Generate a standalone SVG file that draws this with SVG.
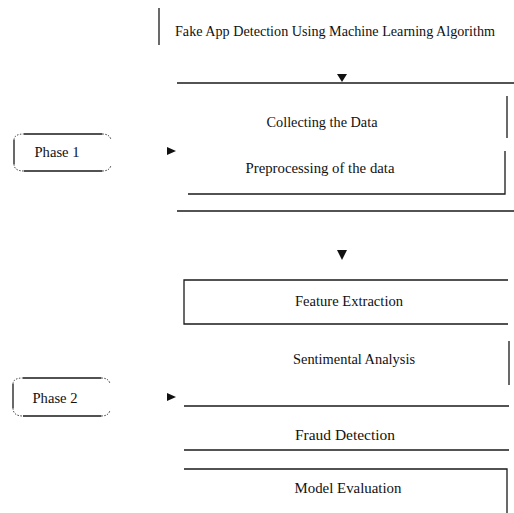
<svg xmlns="http://www.w3.org/2000/svg" width="514" height="513" viewBox="0 0 514 513">
<style>
.ln{stroke:#1a1a1a;stroke-width:1.3;fill:none}
.cn{stroke:#333;stroke-width:1;fill:none;stroke-dasharray:1.5 1.5}
.t{font-family:"Liberation Serif","Times New Roman",serif;font-size:14px;fill:#111;text-anchor:middle}
.ar{fill:#111}
</style>
<rect width="514" height="513" fill="#fff"/>
<g id="title">
<line class="ln" x1="159" y1="8" x2="159" y2="45"/>
<text class="t" x="335" y="36" textLength="320" lengthAdjust="spacingAndGlyphs">Fake App Detection Using Machine Learning Algorithm</text>
</g>
<g id="phase1">
<path class="ln" d="M24 134 H102 M14 140 V164 M24 171 H102"/>
<path class="cn" d="M14 140 Q14 134 24 134 M102 134 Q110 134 111 140 M14 164 Q14 171 24 171 M102 171 Q110 171 111 165"/>
<text class="t" x="57" y="157" textLength="45" lengthAdjust="spacingAndGlyphs">Phase 1</text>
</g>
<g id="phase2">
<path class="ln" d="M23 378 H101 M13 384 V408 M23 416 H101"/>
<path class="cn" d="M13 384 Q13 378 23 378 M101 378 Q109 378 110 384 M13 408 Q13 416 23 416 M101 416 Q109 416 110 410"/>
<text class="t" x="55" y="403" textLength="45" lengthAdjust="spacingAndGlyphs">Phase 2</text>
</g>
<g id="collecting">
<line class="ln" x1="507" y1="96" x2="507" y2="138"/>
<text class="t" x="322" y="127" textLength="111" lengthAdjust="spacingAndGlyphs">Collecting the Data</text>
</g>
<g id="preprocessing">
<path class="ln" d="M188 194 H505 V151"/>
<text class="t" x="320" y="173" textLength="149" lengthAdjust="spacingAndGlyphs">Preprocessing of the data</text>
</g>
<g id="phase1-frame">
<line class="ln" x1="177" y1="83" x2="514" y2="83"/>
<line class="ln" x1="177" y1="211" x2="514" y2="211"/>
</g>
<g id="feature">
<path class="ln" d="M508 280 H184 V324 H508"/>
<text class="t" x="349" y="306" textLength="108" lengthAdjust="spacingAndGlyphs">Feature Extraction</text>
</g>
<g id="sentimental">
<line class="ln" x1="509" y1="341" x2="509" y2="385"/>
<text class="t" x="354" y="364" textLength="122" lengthAdjust="spacingAndGlyphs">Sentimental Analysis</text>
</g>
<g id="fraud">
<line class="ln" x1="184" y1="406" x2="509" y2="406"/>
<line class="ln" x1="184" y1="450" x2="509" y2="450"/>
<text class="t" x="345" y="440" textLength="100" lengthAdjust="spacingAndGlyphs">Fraud Detection</text>
</g>
<g id="evaluation">
<path class="ln" d="M184 469 H507 V513"/>
<text class="t" x="348" y="493" textLength="107" lengthAdjust="spacingAndGlyphs">Model Evaluation</text>
</g>
<g id="connectors">
<polygon class="ar" points="337,74 347,74 342,82"/>
<polygon class="ar" points="337,250 347,250 342,260"/>
<polygon class="ar" points="167,147 176,151 167,155"/>
<polygon class="ar" points="167,393 176,397 167,401"/>
</g>
</svg>
